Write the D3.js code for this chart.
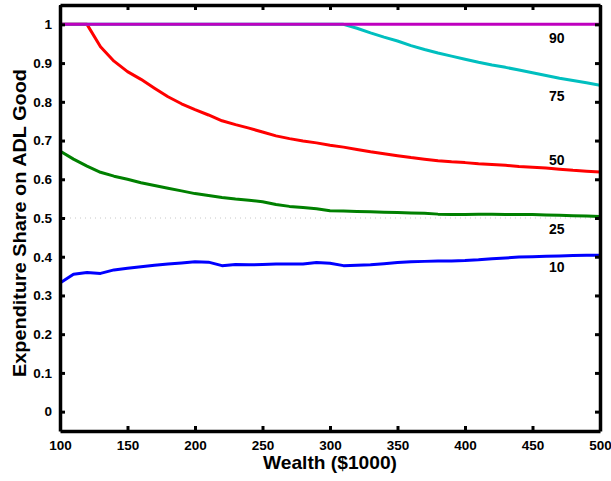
<!DOCTYPE html>
<html lang="en">
<head>
<meta charset="utf-8">
<title>Expenditure Share on ADL Good</title>
<script src="https://cdn.jsdelivr.net/npm/d3@7"></script>
<style>
  body { margin: 0; background: #fff; }
  svg { font-family: "Liberation Sans", Arial, Helvetica, sans-serif; font-weight: bold; }
  .tick text { font-size: 13.5px; font-weight: bold; fill: #000; }
</style>
</head>
<body>
<div id="chart"></div>
<script>
// data
const wealth = d3.range(100, 501, 10);

const p10 = [0.332, 0.355, 0.359, 0.357, 0.366, 0.370, 0.374, 0.378, 0.381, 0.384, 0.387,
  0.386, 0.377, 0.380, 0.379, 0.380, 0.381, 0.381, 0.381, 0.385, 0.383,
  0.377, 0.378, 0.379, 0.382, 0.385, 0.387, 0.388, 0.389, 0.389, 0.390,
  0.392, 0.395, 0.397, 0.399, 0.400, 0.401, 0.402, 0.403, 0.404, 0.404];

const p25 = [0.673, 0.652, 0.634, 0.618, 0.608, 0.600, 0.591, 0.584, 0.577, 0.570, 0.563,
  0.558, 0.553, 0.549, 0.546, 0.542, 0.535, 0.530, 0.527, 0.524, 0.519,
  0.518, 0.517, 0.516, 0.515, 0.514, 0.513, 0.512, 0.510, 0.509, 0.509,
  0.510, 0.510, 0.509, 0.509, 0.509, 0.508, 0.507, 0.506, 0.505, 0.504];

const p50 = [1, 1, 1, 0.942, 0.905, 0.878, 0.858, 0.835, 0.813, 0.795, 0.780,
  0.766, 0.751, 0.741, 0.732, 0.722, 0.712, 0.705, 0.699, 0.694, 0.688,
  0.683, 0.677, 0.671, 0.666, 0.661, 0.656, 0.652, 0.648, 0.645, 0.643,
  0.640, 0.638, 0.636, 0.633, 0.631, 0.629, 0.626, 0.623, 0.621, 0.619];

const p75 = [1, 1, 1, 1, 1, 1, 1, 1, 1, 1, 1,
  1, 1, 1, 1, 1, 1, 1, 1, 1, 1,
  1, 0.990, 0.978, 0.967, 0.957, 0.945, 0.935, 0.926, 0.918, 0.910,
  0.902, 0.895, 0.889, 0.882, 0.875, 0.868, 0.861, 0.855, 0.849, 0.843];

const p90 = wealth.map(() => 1);

const seriesNames = ["10", "25", "50", "75", "90"];
const seriesValues = [p10, p25, p50, p75, p90];
const seriesColors = ["#0000ff", "#008000", "#ff0000", "#00bfbf", "#bf00bf"];
// where each percentile label is written (wealth, share)
const labelX = [468, 468, 468, 468, 468];
const labelY = [0.360, 0.458, 0.638, 0.803, 0.952];

const xTicks = [100, 150, 200, 250, 300, 350, 400, 450, 500];
const yTicks = [0, 0.1, 0.2, 0.3, 0.4, 0.5, 0.6, 0.7, 0.8, 0.9, 1];

// layout
const W = 611, H = 481;
const m = { left: 60, right: 11, top: 5, bottom: 50 };

const svg = d3.select("#chart").append("svg")
  .attr("width", W).attr("height", H)
  .attr("viewBox", [0, 0, W, H]);

const x = d3.scaleLinear().domain([100, 500]).range([m.left, W - m.right]);
const y = d3.scaleLinear().domain([-0.05, 1.05]).range([H - m.bottom, m.top]);

svg.append("clipPath").attr("id", "clip")
  .append("rect")
  .attr("x", m.left).attr("y", m.top)
  .attr("width", W - m.left - m.right).attr("height", H - m.top - m.bottom);

// dotted reference line at 0.5
svg.append("line")
  .attr("x1", x(100)).attr("x2", x(500))
  .attr("y1", y(0.5)).attr("y2", y(0.5))
  .attr("stroke", "#c8c8c8")
  .attr("stroke-width", 1)
  .attr("stroke-dasharray", "1,4");

const line = d3.line()
  .x((d, i) => x(wealth[i]))
  .y(d => y(d));

svg.append("g").attr("clip-path", "url(#clip)")
  .selectAll("path")
  .data(seriesValues)
  .join("path")
  .attr("fill", "none")
  .attr("stroke", (d, i) => seriesColors[i])
  .attr("stroke-width", 3)
  .attr("stroke-linejoin", "round")
  .attr("d", line);

svg.selectAll("text.lbl")
  .data(seriesNames)
  .join("text")
  .attr("class", "lbl")
  .attr("x", (d, i) => x(labelX[i]))
  .attr("y", (d, i) => y(labelY[i]))
  .attr("text-anchor", "middle")
  .attr("font-size", 14)
  .text(d => d);

// axes (box with inward ticks)
const tk = 5;
const fmt = d => d3.format("")(d);

function styleAxis(g) {
  g.select(".domain").attr("stroke", "#000").attr("stroke-width", 3.5);
  g.selectAll(".tick line").attr("stroke", "#000").attr("stroke-width", 3);
}

svg.append("g")
  .attr("transform", `translate(0,${H - m.bottom})`)
  .call(d3.axisBottom(x).tickValues(xTicks).tickSizeInner(-tk).tickSizeOuter(0).tickPadding(9).tickFormat(fmt))
  .call(styleAxis);

svg.append("g")
  .attr("transform", `translate(0,${m.top})`)
  .call(d3.axisTop(x).tickValues(xTicks).tickSizeInner(-tk).tickSizeOuter(0).tickFormat(""))
  .call(styleAxis);

svg.append("g")
  .attr("transform", `translate(${m.left},0)`)
  .call(d3.axisLeft(y).tickValues(yTicks).tickSizeInner(-tk).tickSizeOuter(0).tickPadding(8).tickFormat(fmt))
  .call(styleAxis);

svg.append("g")
  .attr("transform", `translate(${W - m.right},0)`)
  .call(d3.axisRight(y).tickValues(yTicks).tickSizeInner(-tk).tickSizeOuter(0).tickFormat(""))
  .call(styleAxis);

// axis titles
svg.append("text")
  .attr("x", (m.left + W - m.right) / 2)
  .attr("y", 469)
  .attr("text-anchor", "middle")
  .attr("font-size", 19)
  .attr("textLength", 134)
  .attr("lengthAdjust", "spacingAndGlyphs")
  .text("Wealth ($1000)");

svg.append("text")
  .attr("transform", `translate(26,${(m.top + H - m.bottom) / 2 + 5}) rotate(-90)`)
  .attr("text-anchor", "middle")
  .attr("font-size", 18)
  .attr("textLength", 308)
  .attr("lengthAdjust", "spacingAndGlyphs")
  .text("Expenditure Share on ADL Good");
</script>
</body>
</html>
